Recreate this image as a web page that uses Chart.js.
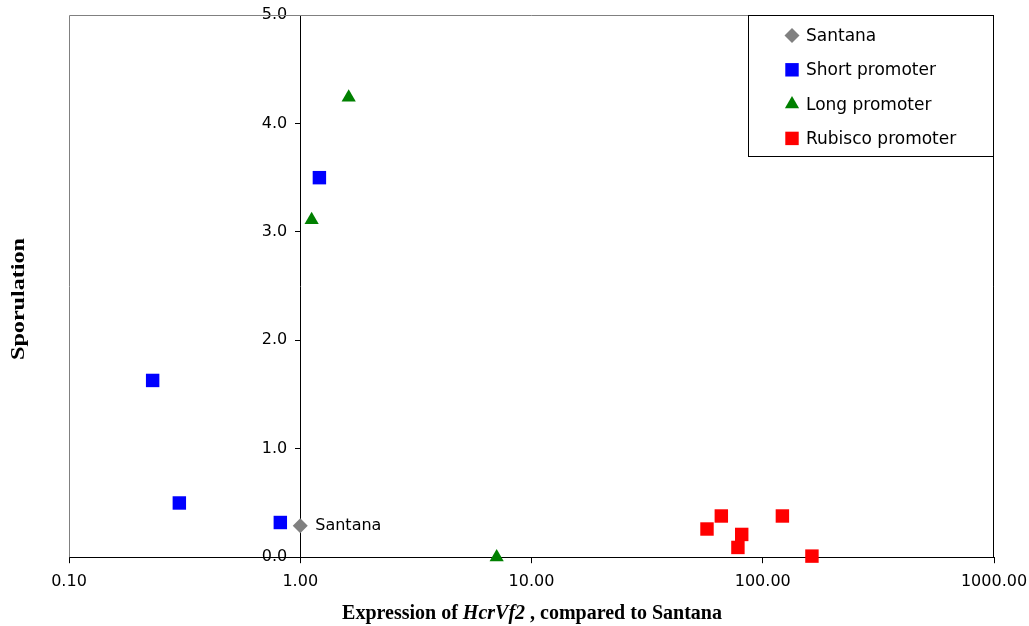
<!DOCTYPE html>
<html>
<head>
<meta charset="utf-8">
<script src="https://cdn.jsdelivr.net/npm/chart.js@4.4.1/dist/chart.umd.min.js"></script>
<style>
  html, body { margin: 0; padding: 0; background: #fff; }
  canvas { display: block; }
</style>
</head>
<body>
<canvas id="sporulationChart" width="1029" height="626"></canvas>
<script>
// series names and values
const seriesNames = ['Santana', 'Short promoter', 'Long promoter', 'Rubisco promoter'];
const santanaX = [1.0];
const santanaY = [0.29];
const shortX = [0.23, 0.30, 0.82, 1.21];
const shortY = [1.63, 0.50, 0.32, 3.50];
const longX = [1.62, 1.12, 7.07];
const longY = [4.24, 3.11, 0.0];
const rubiscoX = [57.4, 66.2, 78.1, 81.1, 121.6, 163.2];
const rubiscoY = [0.26, 0.38, 0.09, 0.21, 0.38, 0.01];
const xTicks = [0.1, 1, 10, 100, 1000];
const yTicks = [0, 1, 2, 3, 4, 5];
const xTitle = ['Expression of ', 'HcrVf2', ' , compared to Santana'];
const yTitle = 'Sporulation';

const toPoints = (xs, ys) => xs.map((x, i) => ({ x: x, y: ys[i] }));

// plot area border: grey on left/top, dark on the right
const framePlugin = {
  id: 'frame',
  beforeDatasetsDraw(chart) {
    const { ctx, chartArea: a } = chart;
    ctx.save();
    ctx.lineWidth = 1;
    ctx.strokeStyle = '#808080';
    ctx.beginPath();
    ctx.moveTo(a.left + 0.5, a.bottom);
    ctx.lineTo(a.left + 0.5, a.top + 0.5);
    ctx.lineTo(a.right, a.top + 0.5);
    ctx.stroke();
    ctx.strokeStyle = '#000';
    ctx.beginPath();
    ctx.moveTo(a.right - 0.5, a.top);
    ctx.lineTo(a.right - 0.5, a.bottom);
    ctx.stroke();
    ctx.restore();
  }
};

// axis titles (x title mixes bold and bold italic)
const titlePlugin = {
  id: 'axisTitles',
  afterDraw(chart) {
    const { ctx } = chart;
    ctx.save();
    ctx.fillStyle = '#000';
    ctx.textBaseline = 'middle';
    ctx.textAlign = 'left';
    const fonts = ['bold 20px "Liberation Serif"', 'italic bold 20px "Liberation Serif"', 'bold 20px "Liberation Serif"'];
    let total = 0;
    const widths = xTitle.map((t, i) => {
      ctx.font = fonts[i];
      const w = ctx.measureText(t).width;
      total += w;
      return w;
    });
    let x = 532 - total / 2;
    xTitle.forEach((t, i) => {
      ctx.font = fonts[i];
      ctx.fillText(t, x, 614);
      x += widths[i];
    });

    ctx.translate(19, 299);
    ctx.rotate(-Math.PI / 2);
    ctx.scale(1.27, 1);
    ctx.textAlign = 'center';
    ctx.font = 'bold 19px "Liberation Serif"';
    ctx.fillText(yTitle, 0, 0);
    ctx.restore();
  }
};

// label next to the Santana point
const pointLabelPlugin = {
  id: 'pointLabel',
  afterDatasetsDraw(chart) {
    const { ctx } = chart;
    const pt = chart.getDatasetMeta(0).data[0];
    ctx.save();
    ctx.fillStyle = '#000';
    ctx.font = '16px "DejaVu Sans"';
    ctx.textBaseline = 'middle';
    ctx.textAlign = 'left';
    ctx.fillText(seriesNames[0], pt.x + 15, pt.y);
    ctx.restore();
  }
};

// boxed legend in the top right corner
const boxLegendPlugin = {
  id: 'boxLegend',
  afterDraw(chart) {
    const { ctx, chartArea: a } = chart;
    const left = 748, top = a.top, right = a.right - 1, bottom = 156;
    ctx.save();
    ctx.fillStyle = '#fff';
    ctx.fillRect(left, top, right - left, bottom - top);
    ctx.strokeStyle = '#000';
    ctx.lineWidth = 1;
    ctx.strokeRect(left + 0.5, top + 0.5, right - left, bottom - top);
    ctx.font = '17px "DejaVu Sans"';
    ctx.textBaseline = 'middle';
    ctx.textAlign = 'left';
    chart.data.datasets.forEach((ds, i) => {
      const y = top + 20.5 + i * 34.3;
      ctx.fillStyle = ds.backgroundColor;
      Chart.helpers.drawPoint(ctx, {
        pointStyle: ds.pointStyle, radius: ds.pointRadius, rotation: 0, borderWidth: 0
      }, 792, y);
      ctx.fillStyle = '#000';
      ctx.fillText(ds.label, 806, y + 1);
    });
    ctx.restore();
  }
};

const ctx = document.getElementById('sporulationChart').getContext('2d');
new Chart(ctx, {
  type: 'scatter',
  data: {
    datasets: [{
      label: seriesNames[0],
      data: toPoints(santanaX, santanaY),
      pointStyle: 'rectRot',
      pointRadius: 7.5,
      backgroundColor: '#808080',
      borderWidth: 0
    }, {
      label: seriesNames[1],
      data: toPoints(shortX, shortY),
      pointStyle: 'rect',
      pointRadius: 9.5,
      backgroundColor: '#0000FF',
      borderWidth: 0
    }, {
      label: seriesNames[2],
      data: toPoints(longX, longY),
      pointStyle: 'triangle',
      pointRadius: 8.2,
      backgroundColor: '#008000',
      borderWidth: 0
    }, {
      label: seriesNames[3],
      data: toPoints(rubiscoX, rubiscoY),
      pointStyle: 'rect',
      pointRadius: 9.5,
      backgroundColor: '#FF0000',
      borderWidth: 0
    }]
  },
  options: {
    responsive: false,
    animation: false,
    clip: false,
    layout: {
      padding: { left: 69, right: 35, top: 15, bottom: 26 }
    },
    scales: {
      x: {
        type: 'logarithmic',
        min: 0.1,
        max: 1000,
        position: 'bottom',
        afterBuildTicks: (scale) => { scale.ticks = xTicks.map(v => ({ value: v })); },
        ticks: {
          callback: (v) => Number(v).toFixed(2),
          // tall line height pushes the labels down without adding side padding
          font: { family: 'DejaVu Sans', size: 16, lineHeight: 2.3 },
          color: '#000',
          padding: 0,
          maxRotation: 0,
          autoSkip: false
        },
        grid: { drawOnChartArea: false, tickLength: 6, color: '#000' },
        border: { color: '#000', width: 1 }
      },
      y: {
        type: 'linear',
        min: 0,
        max: 5,
        position: { x: 1 },
        afterBuildTicks: (scale) => { scale.ticks = yTicks.map(v => ({ value: v })); },
        ticks: {
          // trailing spaces keep the labels clear of the axis line
          callback: (v) => Number(v).toFixed(1) + '\u2002 ',
          font: { family: 'DejaVu Sans', size: 16 },
          color: '#000',
          padding: 5.4
        },
        grid: { drawOnChartArea: false, tickLength: 5, color: '#000' },
        border: { color: '#000', width: 1 }
      }
    },
    plugins: {
      legend: { display: false },
      tooltip: { enabled: false }
    }
  },
  plugins: [framePlugin, pointLabelPlugin, titlePlugin, boxLegendPlugin]
});
</script>
</body>
</html>
